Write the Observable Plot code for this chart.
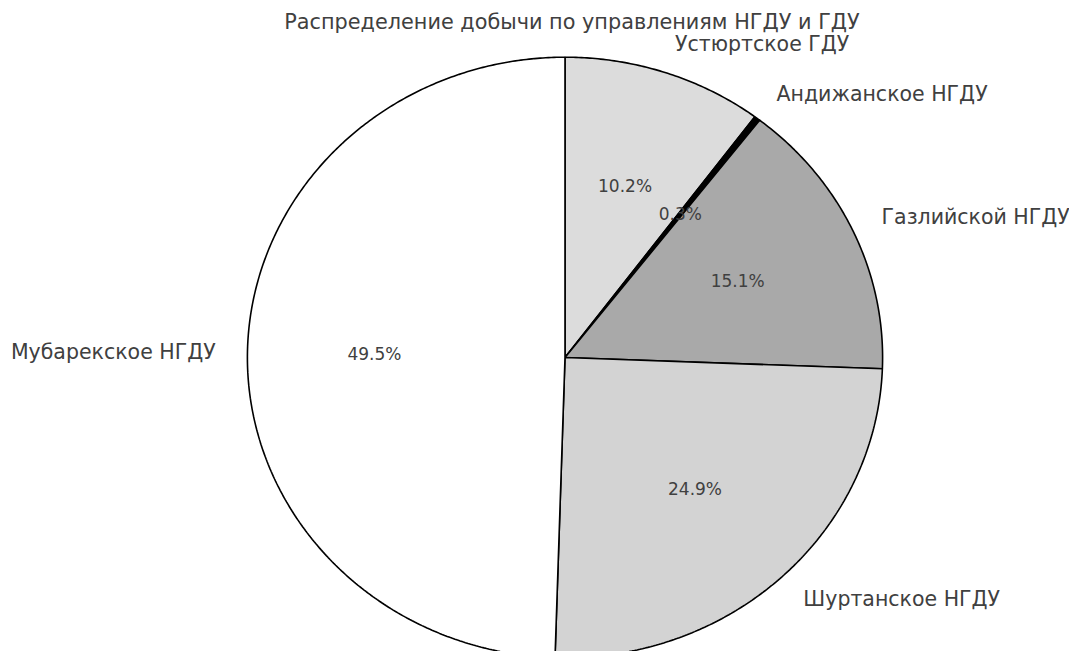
<!DOCTYPE html>
<html>
<head>
<meta charset="utf-8">
<script src="https://cdn.jsdelivr.net/npm/d3@7"></script>
<script src="https://cdn.jsdelivr.net/npm/@observablehq/plot@0.6"></script>
<style>
  body { margin: 0; background: white; }
  #chart { width: 1069px; height: 651px; overflow: hidden; }
</style>
</head>
<body>
<div id="chart"></div>
<script>
const title = "Распределение добычи по управлениям НГДУ и ГДУ";
const names = ["Устюртское ГДУ", "Андижанское НГДУ", "Газлийской НГДУ", "Шуртанское НГДУ", "Мубарекское НГДУ"];
const values = [10.2, 0.3, 15.1, 24.9, 49.5];
const colors = ["#dcdcdc", "#000000", "#a9a9a9", "#d3d3d3", "#ffffff"];

const total = d3.sum(values);
const toRad = Math.PI / 180;
// matplotlib: startangle 90, clockwise
let acc = 0;
const slices = values.map((v, i) => {
  const a1 = 90 - acc / total * 360;
  acc += v;
  const a2 = 90 - acc / total * 360;
  return {name: names[i], value: v, color: colors[i], a1, a2, mid: (a1 + a2) / 2};
});

const poly = [];
for (const s of slices) {
  poly.push({name: s.name, color: s.color, x: 0, y: 0});
  const n = Math.max(2, Math.ceil(Math.abs(s.a1 - s.a2) / 0.5));
  for (let k = 0; k <= n; k++) {
    const a = (s.a1 + (s.a2 - s.a1) * k / n) * toRad;
    poly.push({name: s.name, color: s.color, x: Math.cos(a), y: Math.sin(a)});
  }
  poly.push({name: s.name, color: s.color, x: 0, y: 0});
}

const labels = slices.map(s => {
  const a = s.mid * toRad;
  return {text: s.name, x: 1.1 * Math.cos(a), y: 1.1 * Math.sin(a), anchor: Math.cos(a) >= 0 ? "start" : "end"};
});
const pcts = slices.map(s => {
  const a = s.mid * toRad;
  return {text: (s.value / total * 100).toFixed(1) + "%", x: 0.6 * Math.cos(a), y: 0.6 * Math.sin(a)};
});

const font = "DejaVu Sans";
const textColor = "#404040";

const plot = Plot.plot({
  width: 1069,
  height: 651,
  margin: 0,
  style: {fontFamily: font, background: "white"},
  x: {domain: [-1, 1], range: [246.9, 882.1], axis: null},
  y: {domain: [-1, 1], range: [657.3, 56.7], axis: null},
  marks: [
    Plot.line(poly, {x: "x", y: "y", z: "name", fill: "color", stroke: "black", strokeWidth: 1.6, strokeLinejoin: "miter", curve: "linear"}),
    Plot.text(labels.filter(d => d.anchor === "start"), {x: "x", y: "y", text: "text", textAnchor: "start", fontSize: 20.5, fill: textColor}),
    Plot.text(labels.filter(d => d.anchor === "end"), {x: "x", y: "y", text: "text", textAnchor: "end", fontSize: 20.5, fill: textColor}),
    Plot.text(pcts, {x: "x", y: "y", text: "text", textAnchor: "middle", fontSize: 17, fill: textColor}),
    Plot.text([title], {frameAnchor: "top-left", dx: 571.5, dy: 22, text: d => d, textAnchor: "middle", lineAnchor: "middle", fontSize: 20.8, fill: textColor})
  ]
});
document.getElementById("chart").appendChild(plot);
</script>
</body>
</html>
